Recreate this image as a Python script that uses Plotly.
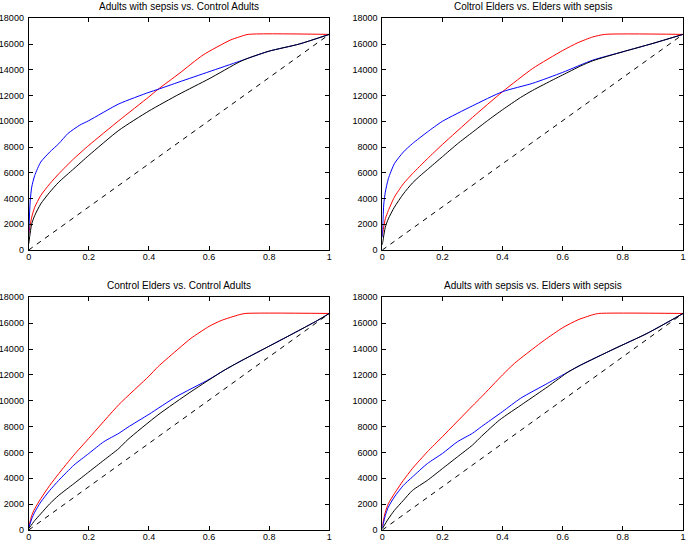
import plotly.graph_objects as go

# ---------------- data ----------------
titles = ["Adults with sepsis vs. Control Adults",
          "Coltrol Elders vs. Elders with sepsis",
          "Control Elders vs. Control Adults",
          "Adults with sepsis vs. Elders with sepsis"]

x_ticks = [0, 0.2, 0.4, 0.6, 0.8, 1.0]
x_tick_labels = ["0", "0.2", "0.4", "0.6", "0.8", "1"]
y_ticks = [0, 2000, 4000, 6000, 8000, 10000, 12000, 14000, 16000, 18000]
y_tick_labels = ["0", "2000", "4000", "6000", "8000", "10000", "12000", "14000", "16000", "18000"]

diag_x = [0, 1]
diag_y = [0, 16750]

# Panel 1
p1_red_x = [0, 0.01, 0.02, 0.04, 0.07, 0.10, 0.15, 0.20, 0.30, 0.40, 0.43, 0.50, 0.58, 0.67, 0.70, 0.73, 1.00]
p1_red_y = [1250, 2550, 3320, 4230, 5140, 5920, 7090, 8130, 10050, 11900, 12480, 13700, 15150, 16300, 16550, 16750, 16750]
p1_blue_x = [0, 0.005, 0.01, 0.02, 0.04, 0.07, 0.10, 0.13, 0.17, 0.20, 0.30, 0.40, 0.43, 0.50, 0.60, 0.70, 0.73, 0.80, 0.90, 1.00]
p1_blue_y = [1200, 3800, 4880, 5790, 6830, 7610, 8260, 9040, 9700, 10050, 11350, 12250, 12480, 13050, 13850, 14650, 14900, 15450, 16000, 16750]
p1_black_x = [0, 0.01, 0.02, 0.04, 0.07, 0.10, 0.15, 0.20, 0.30, 0.40, 0.50, 0.60, 0.70, 0.73, 0.80, 0.90, 1.00]
p1_black_y = [470, 2030, 2680, 3580, 4490, 5270, 6310, 7350, 9300, 10800, 12100, 13300, 14600, 14900, 15450, 16000, 16750]

# Panel 2
p2_red_x = [0, 0.01, 0.02, 0.04, 0.07, 0.10, 0.15, 0.20, 0.30, 0.40, 0.50, 0.60, 0.65, 0.70, 0.74, 1.00]
p2_red_y = [1120, 2420, 3060, 4100, 5140, 5920, 7090, 8200, 10300, 12300, 14100, 15500, 16100, 16550, 16750, 16750]
p2_blue_x = [0, 0.005, 0.01, 0.02, 0.04, 0.07, 0.10, 0.15, 0.20, 0.30, 0.40, 0.50, 0.60, 0.70, 0.80, 0.90, 1.00]
p2_blue_y = [1000, 3580, 4490, 5530, 6700, 7610, 8260, 9170, 10000, 11200, 12300, 12950, 13800, 14750, 15400, 16050, 16750]
p2_black_x = [0, 0.01, 0.02, 0.04, 0.07, 0.10, 0.125, 0.15, 0.20, 0.25, 0.30, 0.35, 0.40, 0.46, 0.50, 0.57, 0.60, 0.66, 0.70, 0.80, 0.90, 1.00]
p2_black_y = [400, 1770, 2420, 3320, 4360, 5200, 5750, 6250, 7250, 8250, 9150, 10050, 10900, 11850, 12400, 13250, 13600, 14300, 14700, 15400, 16050, 16750]

# Panel 3
p3_red_x = [0, 0.01, 0.02, 0.04, 0.07, 0.10, 0.15, 0.20, 0.30, 0.40, 0.43, 0.50, 0.54, 0.60, 0.64, 0.70, 0.72, 1.00]
p3_red_y = [200, 1120, 1640, 2420, 3450, 4360, 5790, 7090, 9700, 11900, 12630, 14050, 14830, 15750, 16200, 16650, 16750, 16750]
p3_blue_x = [0, 0.01, 0.02, 0.04, 0.07, 0.10, 0.15, 0.20, 0.25, 0.30, 0.33, 0.40, 0.49, 0.60, 0.65, 0.70, 0.79, 0.88, 0.96, 1.00]
p3_blue_y = [150, 860, 1380, 2160, 3060, 3840, 5010, 5920, 6830, 7480, 7950, 8950, 10300, 11650, 12350, 13000, 14100, 15200, 16200, 16750]
p3_black_x = [0, 0.02, 0.04, 0.07, 0.10, 0.15, 0.20, 0.25, 0.30, 0.33, 0.43, 0.54, 0.65, 0.70, 0.79, 0.88, 0.96, 1.00]
p3_black_y = [100, 730, 1250, 2030, 2680, 3580, 4490, 5400, 6310, 7000, 8900, 10700, 12350, 13000, 14100, 15200, 16200, 16750]

# Panel 4
p4_red_x = [0, 0.01, 0.02, 0.04, 0.07, 0.10, 0.15, 0.20, 0.30, 0.33, 0.40, 0.44, 0.50, 0.54, 0.60, 0.65, 0.70, 0.72, 1.00]
p4_red_y = [300, 1380, 2030, 2810, 3840, 4750, 6050, 7220, 9600, 10300, 12000, 12900, 14000, 14700, 15650, 16250, 16650, 16750, 16750]
p4_blue_x = [0, 0.01, 0.02, 0.04, 0.07, 0.10, 0.15, 0.20, 0.25, 0.30, 0.33, 0.40, 0.46, 0.55, 0.62, 0.66, 0.77, 0.88, 0.97, 1.00]
p4_blue_y = [150, 1120, 1770, 2550, 3450, 4100, 5140, 5920, 6830, 7480, 8000, 9160, 10190, 11350, 12250, 12760, 14000, 15200, 16350, 16750]
p4_black_x = [0, 0.02, 0.04, 0.07, 0.10, 0.15, 0.20, 0.25, 0.30, 0.33, 0.39, 0.47, 0.55, 0.62, 0.66, 0.77, 0.88, 0.97, 1.00]
p4_black_y = [100, 860, 1510, 2290, 3060, 3840, 4750, 5660, 6570, 7250, 8510, 9800, 11080, 12250, 12760, 14000, 15200, 16350, 16750]

panels = [
    (p1_red_x, p1_red_y, p1_blue_x, p1_blue_y, p1_black_x, p1_black_y),
    (p2_red_x, p2_red_y, p2_blue_x, p2_blue_y, p2_black_x, p2_black_y),
    (p3_red_x, p3_red_y, p3_blue_x, p3_blue_y, p3_black_x, p3_black_y),
    (p4_red_x, p4_red_y, p4_blue_x, p4_blue_y, p4_black_x, p4_black_y),
]

# ---------------- layout ----------------
W, H = 687, 542
x_domains = [[28.7 / W, 329.3 / W], [382.3 / W, 683.0 / W]]
y_domains = [[1 - 250.0 / H, 1 - 18.3 / H], [1 - 530.0 / H, 1 - 297.3 / H]]

FONT = "Liberation Sans, Arial, sans-serif"
fig = go.Figure()

layout = dict(
    template="none",
    width=W, height=H,
    margin=dict(l=0, r=0, t=0, b=0, pad=0, autoexpand=False),
    paper_bgcolor="white", plot_bgcolor="white",
    showlegend=False,
    font=dict(family=FONT, size=9, color="black"),
    annotations=[],
)

for i, (rx, ry, bx, by, kx, ky) in enumerate(panels):
    row, col = divmod(i, 2)
    n = i + 1
    xa = "x" if n == 1 else f"x{n}"
    ya = "y" if n == 1 else f"y{n}"
    for xs, ys, color, dash, shape in [(rx, ry, "#ff0000", "solid", "spline"),
                                       (bx, by, "#0000ff", "solid", "spline"),
                                       (kx, ky, "#000000", "solid", "spline"),
                                       (diag_x, diag_y, "#000000", "5px,5px", "linear")]:
        fig.add_trace(go.Scatter(x=xs, y=ys, mode="lines", xaxis=xa, yaxis=ya,
                                 line=dict(color=color, width=1, dash=dash,
                                           shape=shape, smoothing=0.6),
                                 hoverinfo="skip"))
    axis_common = dict(showgrid=False, zeroline=False, showline=True, linecolor="black",
                       linewidth=1, mirror="ticks", ticks="inside", ticklen=4,
                       tickcolor="black", tickwidth=1, automargin=False,
                       tickfont=dict(family=FONT, size=9, color="black"))
    layout[f"xaxis{'' if n == 1 else n}"] = dict(
        domain=x_domains[col], range=[0, 1], anchor=ya,
        tickmode="array", tickvals=x_ticks, ticktext=x_tick_labels,
        ticklabelstandoff=-2,
        **axis_common)
    layout[f"yaxis{'' if n == 1 else n}"] = dict(
        domain=y_domains[row], range=[0, 18000], anchor=xa,
        tickmode="array", tickvals=y_ticks, ticktext=y_tick_labels,
        ticklabelstandoff=2,
        **axis_common)
    layout["annotations"].append(dict(
        text=titles[i], xref="paper", yref="paper",
        x=(x_domains[col][0] + x_domains[col][1]) / 2, y=y_domains[row][1],
        xanchor="center", yanchor="bottom", yshift=4, showarrow=False,
        font=dict(family=FONT, size=10, color="black")))

fig.update_layout(**layout)
fig.write_html("out.html",
               config={"displayModeBar": False},
               post_script="document.body.style.margin='0';document.body.style.padding='0';")
